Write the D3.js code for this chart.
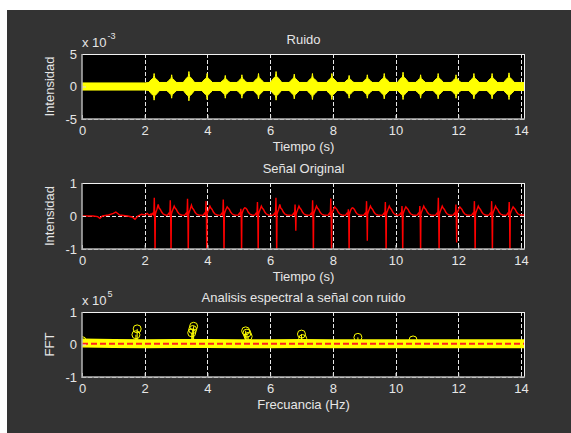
<!DOCTYPE html>
<html>
<head>
<meta charset="utf-8">
<script src="https://cdn.jsdelivr.net/npm/d3@7"></script>
<style>
body { margin: 0; background: #fff; }
svg text { font-family: "Liberation Sans", Arial, sans-serif; font-size: 13px; fill: #e6e6e6; }
</style>
</head>
<body>
<svg id="fig" width="571" height="433"></svg>
<script>
var xDomain = [0, 14.13];
var xTicks = [0, 2, 4, 6, 8, 10, 12, 14];

// Ruido (x 10^-3)
var noiseTicks = [-5, 0, 5];
var noiseBandTimes = [0, 2.0, 2.15, 14.13];
var noiseBandHalf = [0.55, 0.55, 0.62, 0.62];
var noiseBurstTimes = [2.3, 2.86, 3.41, 3.99, 4.57, 5.1, 5.63, 6.19, 6.77, 7.35, 7.97, 8.52, 9.1, 9.64, 10.24, 10.8, 11.36, 11.93, 12.5, 13.08, 13.62];
var noiseBurstPeak = [2.0, 1.8, 2.3, 2.0, 1.7, 1.8, 2.0, 2.3, 1.9, 2.0, 2.0, 1.7, 1.8, 2.0, 2.2, 1.8, 2.0, 1.8, 2.0, 2.0, 2.1];
var noiseBurstTrough = [-2.1, -1.8, -2.2, -2.0, -1.8, -1.8, -1.9, -2.1, -1.9, -2.0, -2.0, -1.8, -1.8, -1.9, -2.0, -1.8, -1.9, -1.8, -1.9, -1.9, -2.0];
var burstShapeDt = [-0.17, -0.1, -0.05, -0.02, -0.008, 0, 0.008, 0.02, 0.05, 0.1, 0.17];
var burstShapeFrac = [0.3, 0.5, 0.62, 0.66, 0.85, 1, 0.85, 0.66, 0.62, 0.5, 0.3];

// Señal Original
var signalTicks = [-1, 0, 1];
var ecgLeadTimes = [0, 0.35, 0.5, 0.57, 0.65, 0.85, 1.0, 1.08, 1.2, 1.45, 1.6, 1.69, 1.78, 1.9, 2.0, 2.08, 2.14, 2.2];
var ecgLeadValues = [0, 0, -0.02, -0.07, 0, 0.03, 0.08, 0.12, 0.03, 0, -0.03, -0.1, 0, 0.05, 0.03, 0.08, 0.02, 0.06];
var ecgBeatTimes = [2.33, 2.84, 3.39, 3.98, 4.53, 5.09, 5.62, 6.21, 6.82, 7.38, 7.96, 8.52, 9.1, 9.7, 10.23, 10.8, 11.39, 11.95, 12.54, 13.09, 13.65];
var ecgR = [0.55, 0.48, 0.52, 0.45, 0.5, 0.22, 0.42, 0.55, 0.35, 0.48, 0.53, 0.2, 0.45, 0.42, 0.3, 0.3, 0.55, 0.35, 0.45, 0.45, 0.42];
var ecgS = [-1.2, -1.2, -1.2, -1.2, -1.2, -1.2, -1.2, -1.2, -0.45, -1.2, -1.2, -1.2, -0.75, -1.2, -1.2, -1.2, -1.2, -0.8, -1.2, -1.2, -1.2];
var ecgT = [0.35, 0.3, 0.33, 0.3, 0.28, 0.25, 0.3, 0.35, 0.3, 0.3, 0.28, 0.25, 0.3, 0.3, 0.28, 0.3, 0.3, 0.28, 0.3, 0.3, 0.28];
var ecgShapeDt = [-0.12, -0.07, -0.04, -0.024, -0.012, 0, 0.01, 0.03, 0.06, 0.1, 0.13, 0.17, 0.21, 0.26, 0.33];
var ecgShapeVal = [0.02, 0.08, 0.03, "R", 0.05, "S", 0.05, 0.12, 0.2, "T", 0.24, 0.2, 0.12, 0.06, 0.03];

// Analisis espectral (x 10^5)
var fftTicks = [-1, 0, 1];
var fftBandFreq = [0, 1, 2, 3, 4, 5, 6, 7, 8, 9, 10, 11, 12, 13, 14.13];
var fftBandVal = [0.05, 0.03, 0.02, 0.03, 0.03, 0.02, 0.02, 0.03, 0.02, 0.02, 0.02, 0.02, 0.02, 0.02, 0.02];
var fftPeakFreq = [0.0, 1.72, 1.76, 3.5, 3.53, 3.56, 5.22, 5.26, 5.3, 7.0, 7.04, 8.8, 10.56];
var fftPeakVal = [0.12, 0.3, 0.48, 0.36, 0.46, 0.56, 0.42, 0.35, 0.25, 0.32, 0.18, 0.22, 0.14];
var fftRefLevel = 0.02;

var svg = d3.select("#fig");
svg.append("rect")
    .attr("x", 7).attr("y", 10)
    .attr("width", 564).attr("height", 423)
    .attr("fill", "#333333");

function drawPanel(p) {
    var x = d3.scaleLinear().domain(xDomain).range([82, 525]);
    var y = d3.scaleLinear().domain(p.yDomain).range([p.bottom, p.top]);
    var g = svg.append("g");

    g.append("rect")
        .attr("x", 82).attr("y", p.top)
        .attr("width", 525 - 82).attr("height", p.bottom - p.top)
        .attr("fill", "#000");

    svg.append("clipPath").attr("id", "clip" + p.id)
        .append("rect")
        .attr("x", 82).attr("y", p.top)
        .attr("width", 525 - 82).attr("height", p.bottom - p.top);

    // grid
    g.selectAll("line.vgrid")
        .data(xTicks.filter(function (d) { return d > 0; }))
        .enter().append("line")
        .attr("x1", function (d) { return Math.round(x(d)) + 0.5; })
        .attr("x2", function (d) { return Math.round(x(d)) + 0.5; })
        .attr("y1", p.top).attr("y2", p.bottom)
        .attr("stroke", "#e8e8e8")
        .attr("stroke-dasharray", "4,2");
    g.selectAll("line.hgrid")
        .data(p.yTicks)
        .enter().append("line")
        .attr("x1", 82).attr("x2", 525)
        .attr("y1", function (d) { return Math.round(y(d)) + 0.5; })
        .attr("y2", function (d) { return Math.round(y(d)) + 0.5; })
        .attr("stroke", "#e8e8e8")
        .attr("stroke-dasharray", "4,2");

    var plot = g.append("g").attr("clip-path", "url(#clip" + p.id + ")");

    // axes
    var fmt = function (d) { return String(d); };
    var xa = g.append("g")
        .attr("transform", "translate(0," + p.bottom + ")")
        .call(d3.axisBottom(x).tickValues(xTicks).tickFormat(fmt).tickSize(-4).tickSizeOuter(0).tickPadding(7));
    var ya = g.append("g")
        .attr("transform", "translate(82,0)")
        .call(d3.axisLeft(y).tickValues(p.yTicks).tickFormat(fmt).tickSize(-4).tickSizeOuter(0).tickPadding(5));
    [xa, ya].forEach(function (a) {
        a.select(".domain").remove();
        a.selectAll("line").attr("stroke", "#dcdcdc");
        a.selectAll("text")
            .attr("fill", "#e6e6e6")
            .style("font-size", "13px")
            .attr("font-family", null);
    });

    // box
    g.append("line").attr("x1", 82).attr("x2", 525).attr("y1", p.top + 0.5).attr("y2", p.top + 0.5)
        .attr("stroke", "#f2f2f2");
    g.append("line").attr("x1", 525 - 0.5).attr("x2", 525 - 0.5).attr("y1", p.top).attr("y2", p.bottom)
        .attr("stroke", "#f2f2f2");
    g.append("line").attr("x1", 82).attr("x2", 82).attr("y1", p.top).attr("y2", p.bottom + 1)
        .attr("stroke", "#b4b4b4").attr("stroke-width", 1.5);
    g.append("line").attr("x1", 82).attr("x2", 525).attr("y1", p.bottom).attr("y2", p.bottom)
        .attr("stroke", "#b4b4b4").attr("stroke-width", 1.5);

    // labels
    g.append("text")
        .attr("x", 303.5).attr("y", p.top - 10)
        .attr("text-anchor", "middle")
        .text(p.title);
    g.append("text")
        .attr("x", 303.5).attr("y", p.bottom + 32)
        .attr("text-anchor", "middle")
        .text(p.xlabel);
    g.append("text")
        .attr("transform", "translate(54," + ((p.top + p.bottom) / 2) + ") rotate(-90)")
        .attr("text-anchor", "middle")
        .text(p.ylabel);
    if (p.exponent !== undefined) {
        var ex = g.append("text")
            .attr("x", 82).attr("y", p.top - 7);
        ex.append("tspan").text("x 10");
        ex.append("tspan")
            .attr("dy", -8)
            .attr("dx", 1)
            .style("font-size", "9px")
            .text(p.exponent);
    }

    return { x: x, y: y, plot: plot };
}

// Ruido
var p1 = drawPanel({ id: 1, top: 54, bottom: 119, yDomain: [-5, 5], yTicks: noiseTicks,
    title: "Ruido", xlabel: "Tiempo (s)", ylabel: "Intensidad", exponent: "-3" });

var bandArea = d3.area()
    .x(function (d, i) { return p1.x(noiseBandTimes[i]); })
    .y0(function (d) { return p1.y(-d); })
    .y1(function (d) { return p1.y(d); });
p1.plot.append("path")
    .datum(noiseBandHalf)
    .attr("d", bandArea)
    .attr("fill", "#ffff00")
    .attr("stroke", "#ffff00")
    .attr("stroke-width", 1);

p1.plot.selectAll("path.burst")
    .data(noiseBurstTimes)
    .enter().append("path")
    .attr("class", "burst")
    .attr("d", function (t, i) {
        var pts = burstShapeDt.map(function (dt, k) { return [p1.x(t + dt), p1.y(noiseBurstPeak[i] * burstShapeFrac[k])]; });
        var low = burstShapeDt.map(function (dt, k) { return [p1.x(t + dt), p1.y(noiseBurstTrough[i] * burstShapeFrac[k])]; }).reverse();
        return d3.line()(pts.concat(low)) + "Z";
    })
    .attr("fill", "#ffff00")
    .attr("stroke", "#ffff00")
    .attr("stroke-width", 1);

// Señal Original
var p2 = drawPanel({ id: 2, top: 183, bottom: 249, yDomain: [-1, 1], yTicks: signalTicks,
    title: "Señal Original", xlabel: "Tiempo (s)", ylabel: "Intensidad" });

var ecg = ecgLeadTimes.map(function (t, i) { return [t, ecgLeadValues[i]]; });
ecgBeatTimes.forEach(function (t, i) {
    var beat = { R: ecgR[i], S: ecgS[i], T: ecgT[i] };
    ecgShapeDt.forEach(function (dt, k) {
        var v = ecgShapeVal[k];
        if (typeof v === "string") v = beat[v];
        ecg.push([t + dt, v]);
    });
});
ecg.push([14.13, 0.03]);

p2.plot.append("path")
    .datum(ecg)
    .attr("d", d3.line()
        .x(function (d) { return p2.x(d[0]); })
        .y(function (d) { return p2.y(d[1]); }))
    .attr("fill", "none")
    .attr("stroke", "#ff0000")
    .attr("stroke-width", 1.4);

// Analisis espectral
var p3 = drawPanel({ id: 3, top: 312, bottom: 377, yDomain: [-1, 1], yTicks: fftTicks,
    title: "Analisis espectral a señal con ruido", xlabel: "Frecuancia (Hz)", ylabel: "FFT", exponent: "5" });

p3.plot.append("path")
    .datum(fftBandVal)
    .attr("d", d3.line()
        .x(function (d, i) { return p3.x(fftBandFreq[i]); })
        .y(function (d) { return p3.y(d); }))
    .attr("fill", "none")
    .attr("stroke", "#ffff00")
    .attr("stroke-width", 9);

p3.plot.selectAll("line.stem")
    .data(fftPeakVal)
    .enter().append("line")
    .attr("class", "stem")
    .attr("x1", function (d, i) { return p3.x(fftPeakFreq[i]); })
    .attr("x2", function (d, i) { return p3.x(fftPeakFreq[i]); })
    .attr("y1", p3.y(fftRefLevel))
    .attr("y2", function (d) { return p3.y(d); })
    .attr("stroke", "#ffff00");

p3.plot.selectAll("circle.peak")
    .data(fftPeakVal)
    .enter().append("circle")
    .attr("class", "peak")
    .attr("cx", function (d, i) { return p3.x(fftPeakFreq[i]); })
    .attr("cy", function (d) { return p3.y(d); })
    .attr("r", 4)
    .attr("fill", "none")
    .attr("stroke", "#ffff00");

p3.plot.append("line")
    .attr("x1", p3.x(xDomain[0])).attr("x2", p3.x(xDomain[1]))
    .attr("y1", p3.y(fftRefLevel)).attr("y2", p3.y(fftRefLevel))
    .attr("stroke", "#ff2020")
    .attr("stroke-width", 2)
    .attr("stroke-dasharray", "6,3");
</script>
</body>
</html>
